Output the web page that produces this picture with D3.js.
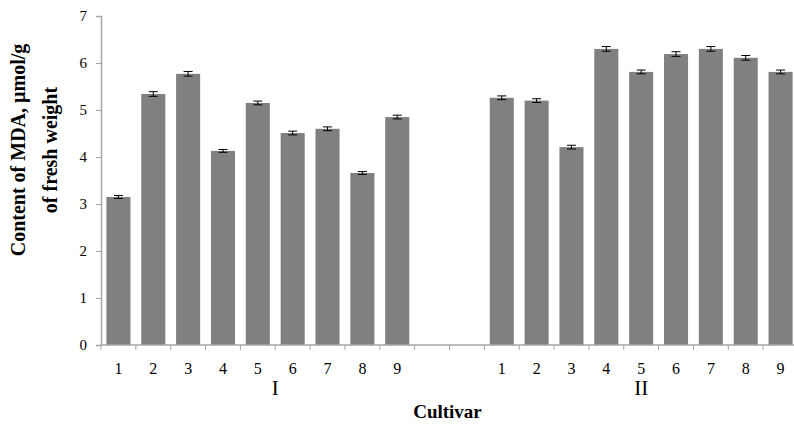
<!DOCTYPE html>
<html>
<head>
<meta charset="utf-8">
<script src="https://cdn.jsdelivr.net/npm/d3@7"></script>
<style>
  body { margin: 0; background: #fff; }
  text { font-family: "Liberation Serif", "Times New Roman", serif; }
</style>
</head>
<body>
<svg id="chart" width="794" height="430"></svg>
<script>
// cultivar numbers in each group
const cultivars = ["1", "2", "3", "4", "5", "6", "7", "8", "9"];
const groups = ["I", "II"];
// MDA content, umol/g fresh weight
const valuesI = [3.15, 5.34, 5.77, 4.13, 5.15, 4.51, 4.60, 3.66, 4.85];
const valuesII = [5.26, 5.20, 4.21, 6.30, 5.81, 6.19, 6.30, 6.11, 5.81];
const errorsI = [0.03, 0.05, 0.05, 0.03, 0.04, 0.04, 0.04, 0.03, 0.04];
const errorsII = [0.04, 0.04, 0.04, 0.05, 0.04, 0.05, 0.05, 0.05, 0.04];
const yTicks = [0, 1, 2, 3, 4, 5, 6, 7];

// two empty slots separate the groups
const slots = [];
cultivars.forEach((c, i) => slots.push({ key: "I-" + c, label: c, v: valuesI[i], e: errorsI[i] }));
slots.push({ key: "gap1", label: "" }, { key: "gap2", label: "" });
cultivars.forEach((c, i) => slots.push({ key: "II-" + c, label: c, v: valuesII[i], e: errorsII[i] }));
const bars = slots.filter(d => d.v !== undefined);

const svg = d3.select("#chart");
const mLeft = 101, mRight = 798, mTop = 16, mBottom = 345;
const axisColor = "#a6a6a6";

const x = d3.scaleBand().domain(slots.map(d => d.key)).range([mLeft, mRight]).padding(0);
const y = d3.scaleLinear().domain([0, 7]).range([mBottom, mTop]);
const bw = x.bandwidth() * 0.69;

// y axis
const yAxis = d3.axisLeft(y).tickValues(yTicks).tickFormat(d3.format("d")).tickSize(5).tickPadding(9);
const gy = svg.append("g").attr("transform", `translate(${mLeft},0)`).call(yAxis);
gy.attr("font-family", null);
gy.select(".domain").attr("stroke", axisColor).attr("stroke-width", 1.5);
gy.selectAll(".tick line").attr("stroke", axisColor);
gy.selectAll(".tick text").attr("font-size", "15px").attr("fill", "#000");

// bars
svg.selectAll(".bar").data(bars).join("rect")
  .attr("class", "bar")
  .attr("x", d => x(d.key) + (x.bandwidth() - bw) / 2)
  .attr("width", bw)
  .attr("y", d => y(d.v))
  .attr("height", d => y(0) - y(d.v))
  .attr("fill", "#808080");

// error bars
const cx = d => x(d.key) + x.bandwidth() / 2;
const eb = svg.selectAll(".err").data(bars).join("g").attr("class", "err")
  .attr("stroke", "#000").attr("stroke-width", 1);
eb.append("line")
  .attr("x1", cx).attr("x2", cx)
  .attr("y1", d => y(d.v + d.e)).attr("y2", d => y(d.v - d.e));
eb.append("line")
  .attr("x1", d => cx(d) - 4.5).attr("x2", d => cx(d) + 4.5)
  .attr("y1", d => y(d.v + d.e)).attr("y2", d => y(d.v + d.e));
eb.append("line")
  .attr("x1", d => cx(d) - 4.5).attr("x2", d => cx(d) + 4.5)
  .attr("y1", d => y(d.v - d.e)).attr("y2", d => y(d.v - d.e));

// x axis: ticks at slot boundaries
const gx = svg.append("g").attr("transform", `translate(0,${mBottom})`);
gx.append("line").attr("x1", mLeft).attr("x2", mRight).attr("stroke", axisColor).attr("stroke-width", 1.5);
gx.selectAll(".xt").data(slots).join("line")
  .attr("x1", d => x(d.key)).attr("x2", d => x(d.key))
  .attr("y1", 0).attr("y2", 5).attr("stroke", axisColor);
gx.selectAll(".xl").data(slots).join("text")
  .attr("x", cx)
  .attr("y", 29)
  .attr("text-anchor", "middle")
  .attr("font-size", "16px")
  .text(d => d.label);

// group labels
const gI = (x("I-1") + x("gap1") + x.bandwidth()) / 2;
const gII = (x("II-1") + mRight) / 2;
svg.selectAll(".grp").data(groups).join("text")
  .attr("x", (d, i) => i === 0 ? gI : gII)
  .attr("y", 395)
  .attr("text-anchor", "middle")
  .attr("font-size", "21px")
  .text(d => d);

// axis titles
svg.append("text")
  .attr("x", (mLeft + mRight) / 2 - 2).attr("y", 418)
  .attr("text-anchor", "middle")
  .attr("font-size", "19px").attr("font-weight", "bold")
  .text("Cultivar");

const yt = svg.append("text")
  .attr("transform", "translate(25,150) rotate(-90)")
  .attr("text-anchor", "middle")
  .attr("font-size", "20px").attr("font-weight", "bold");
yt.append("tspan").attr("x", 0).attr("dy", 0).text("Content of  MDA, µmol/g");
yt.append("tspan").attr("x", 0).attr("dy", 32).text("of fresh weight");
</script>
</body>
</html>
